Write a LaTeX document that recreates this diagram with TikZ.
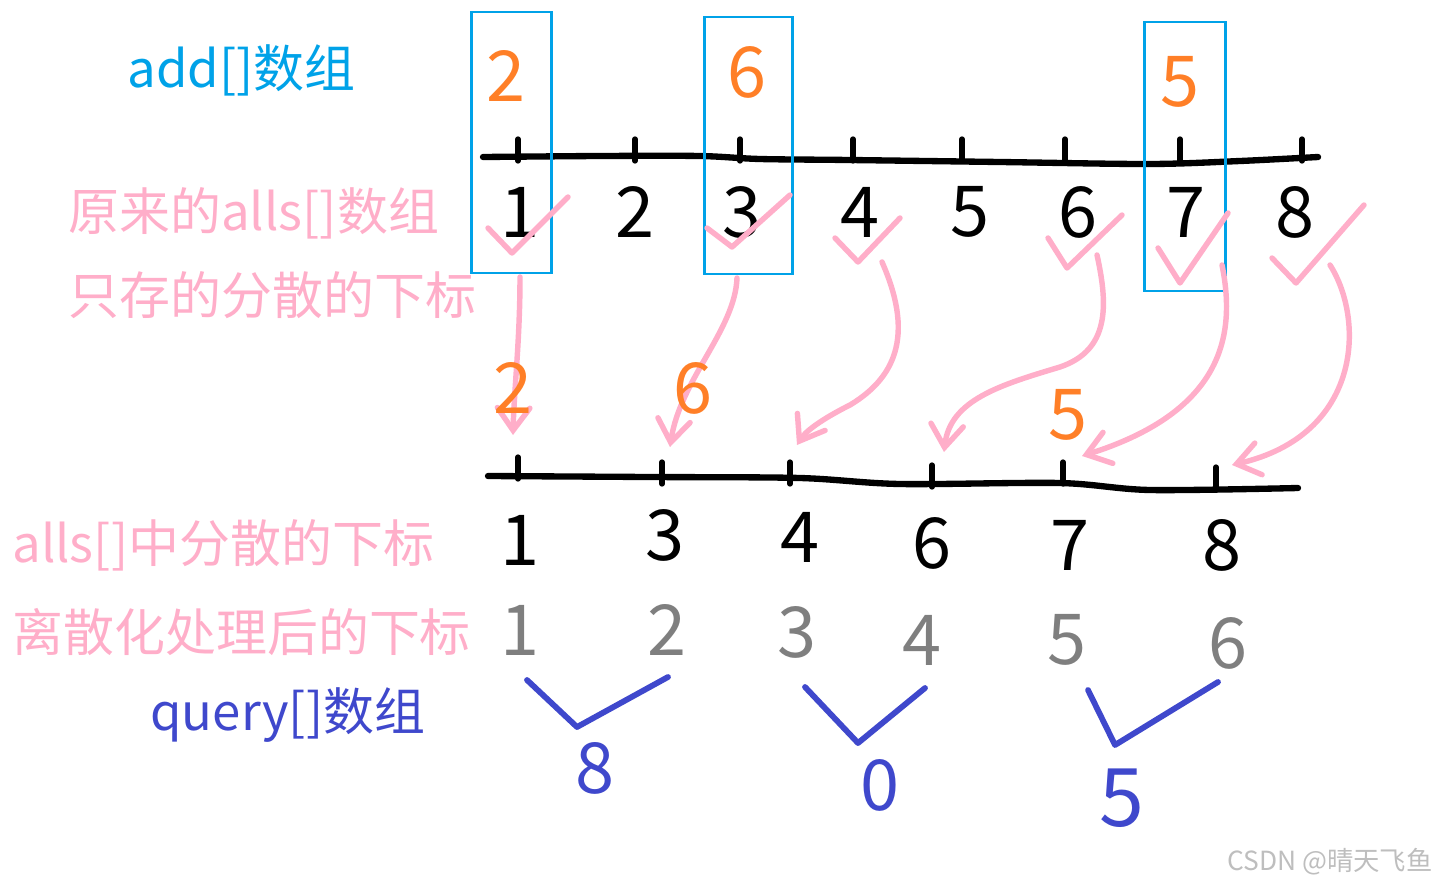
\documentclass[tikz,border=0pt]{standalone}
\usepackage{fontspec}
\setmainfont{Noto Sans CJK SC}
\usetikzlibrary{arrows.meta}
\definecolor{addblue}{RGB}{0,162,232}
\definecolor{numorange}{RGB}{255,127,39}
\definecolor{allspink}{RGB}{255,174,201}
\definecolor{idxgray}{RGB}{127,127,127}
\definecolor{qblue}{RGB}{63,72,204}
\definecolor{markgray}{RGB}{190,190,190}

\tikzset{
  digit/.style={font=\fontsize{40}{40}\selectfont, inner sep=0pt},
  rowtext/.style={font=\fontsize{29}{29}\selectfont, inner sep=0pt, anchor=west},
  axisline/.style={line width=3.6pt, line cap=round},
  axistick/.style={line width=3pt, line cap=round},
  mapto/.style={allspink, line width=3.1pt, line cap=round,
    -{Straight Barb[length=4.5mm, width=6.5mm, line cap=round]}},
  checkmark/.style={allspink, line width=3.1pt, line cap=round, line join=round},
  pickbox/.style={addblue, line width=1.7pt},
  pairv/.style={qblue, line width=3.3pt, line cap=round, line join=round},
}

\begin{document}
\begin{tikzpicture}[x=0.02cm, y=-0.02cm]
\useasboundingbox (0,0) rectangle (1439,889);
% row captions
\node[rowtext, text=addblue] (addcap) at (127,70) {add[]数组};
\node[rowtext, text=allspink] (allscap) at (68,213) {原来的alls[]数组};
\node[rowtext, text=allspink] (storecap) at (68,295) {只存的分散的下标};
\node[rowtext, text=allspink] (sparsecap) at (12,545) {alls[]中分散的下标};
\node[rowtext, text=allspink] (dispcap) at (12,632) {离散化处理后的下标};
\node[rowtext, text=qblue] (querycap) at (150,715) {query[]数组};
% upper axis
\draw[axisline] plot[smooth] coordinates {(483,157) (600,156) (700,156)
  (760,159) (850,160) (1000,162) (1150,164) (1240,161) (1318,157)};
\foreach \x/\n in {518/1, 635/2, 740/3, 853/4, 962/5, 1065/6, 1180/7, 1302/8}
  \draw[axistick] (\x,139) -- (\x,161);
\foreach \x/\n in {520/1, 635/2, 742/3, 860/4, 970/5, 1078/6, 1186/7, 1295/8}
  \node[digit] (up\n) at (\x,212) {\n};
% values stored in add[]
\node[digit, text=numorange] (add1) at (506,76) {2};
\node[digit, text=numorange] (add3) at (747,72) {6};
\node[digit, text=numorange] (add7) at (1180,82) {5};
\draw[pickbox] (471,12) rectangle (551,273);
\draw[pickbox] (704,17) rectangle (792,274);
\draw[pickbox] (1144,22) rectangle (1225,291);
% picked positions
\draw[checkmark] (488,228) -- (512,253) -- (568,197);
\draw[checkmark] (707,228) -- (732,247) -- (790,195);
\draw[checkmark] (835,238) -- (858,262) -- (900,218);
\draw[checkmark] (1048,238) -- (1067,268) -- (1122,215);
\draw[checkmark] (1158,248) -- (1180,283) -- (1228,213);
\draw[checkmark] (1272,258) -- (1296,283) -- (1364,205);
% lower axis
\draw[axisline] plot[smooth] coordinates {(488,476) (650,477) (800,478)
  (900,484) (1060,483) (1150,490) (1298,488)};
\foreach \x/\y/\n in {518/457/1, 662/462/3, 790/462/4, 932/465/6, 1063/462/7, 1216/467/8}
  \draw[axistick] (\x,\y) -- (\x,\y+22) coordinate (lo\n);
% arrow ends
\coordinate (end1) at (513,435);
\coordinate (end3) at (670,447);
\coordinate (end4) at (797,445);
\coordinate (end6) at (944,452);
\coordinate (end7) at (1082,456);
\coordinate (end8) at (1232,465);
\draw[mapto] (520,277) .. controls (520,340) and (514,390) .. (end1);
\draw[mapto] (737,278) .. controls (735,330) and (680,380) .. (end3);
\draw[mapto] (882,262) .. controls (912,330) and (900,375) .. (850,405)
  .. controls (820,420) and (805,432) .. (end4);
\draw[mapto] (1097,255) .. controls (1108,305) and (1110,350) .. (1060,367)
  .. controls (1000,385) and (950,400) .. (end6);
\draw[mapto] (1222,265) .. controls (1235,330) and (1228,410) .. (end7);
\draw[mapto] (1330,265) .. controls (1365,320) and (1362,435) .. (end8);
% values carried down
\node[digit, text=numorange] (val1) at (513,388) {2};
\node[digit, text=numorange] (val3) at (693,388) {6};
\node[digit, text=numorange] (val7) at (1068,415) {5};
% sparse indices and new indices
\foreach \x/\y/\n in {520/540/1, 665/535/3, 800/537/4, 932/543/6, 1070/545/7, 1222/545/8}
  \node[digit] (sp\n) at (\x,\y) {\n};
\foreach \x/\y/\n in {520/630/1, 667/630/2, 797/632/3, 922/640/4, 1067/640/5, 1228/643/6}
  \node[digit, text=idxgray] (new\n) at (\x,\y) {\n};
% query sums
\draw[pairv] (527,680) -- (577,727) -- (668,677);
\draw[pairv] (805,687) -- (858,743) -- (925,688);
\draw[pairv] (1088,690) -- (1115,745) -- (1218,682);
\node[digit, text=qblue] (sum1) at (595,768) {8};
\node[digit, text=qblue] (sum2) at (880,785) {0};
\node[digit, text=qblue, font=\fontsize{46}{46}\selectfont] (sum3) at (1122,798) {5};
% watermark
\node[font=\fontsize{15}{15}\selectfont, text=markgray, inner sep=0pt] (mark) at (1330,862) {CSDN @晴天飞鱼};
\end{tikzpicture}
\end{document}
